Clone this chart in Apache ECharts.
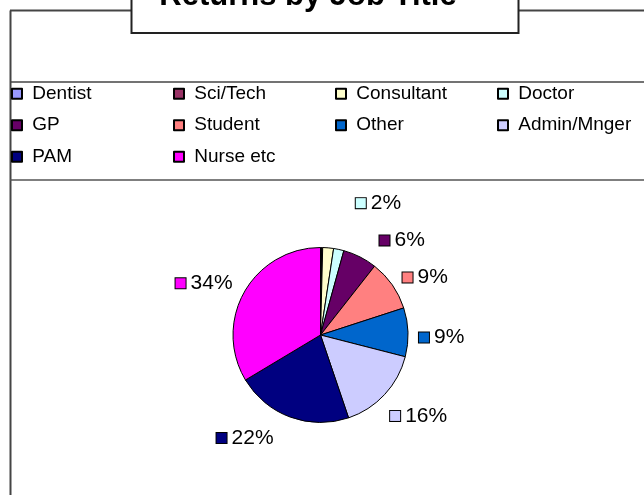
<!DOCTYPE html>
<html><head><meta charset="utf-8">
<script src="https://cdn.jsdelivr.net/npm/echarts@6/dist/echarts.min.js"></script>
<style>html,body{margin:0;padding:0;background:#fff}#c{width:644px;height:495px}</style>
</head><body><div id="c"></div>
<script>
const titleText = 'Returns by Job Title';
const categories = ['Dentist','Sci/Tech','Consultant','Doctor','GP','Student','Other','Admin/Mnger','PAM','Nurse etc'];
const shares = [0.2, 0.2, 2.0, 1.9, 6.3, 9.4, 9.0, 15.8, 21.6, 33.6];
const hiddenLabels = ['Dentist','Sci/Tech','Consultant'];

const colors = ['#9999FF','#993366','#FFFFCC','#CCFFFF','#660066','#FF8080','#0066CC','#CCCCFF','#000080','#FF00FF'];
const FONT = '"Liberation Sans", Arial, sans-serif';
const CX = 320.5, CY = 335, R = 87.5, GAP = 9.5;
const labelNudge = {'Doctor':[28,-30],'GP':[17,-1],'PAM':[-22,5],'Student':[2,5],'Other':[1,6],'Admin/Mnger':[-2,8],'Nurse etc':[-3,3]};

const total = shares.reduce((a,b)=>a+b,0);
function midAngle(i){
  let before = 0; for (let k=0;k<i;k++) before += shares[k];
  return (before + shares[i]/2) / total * Math.PI * 2;
}
function clamp(v){ return Math.max(-1, Math.min(1, v)); }

const rich = { t: { fontSize: 21, fontFamily: FONT, color: '#000', padding:[0,0,0,5] } };
colors.forEach((c,i)=>{ rich['m'+i] = { width: 10, height: 10, backgroundColor: c, borderColor: '#000', borderWidth: 1 }; });

const chart = echarts.init(document.getElementById('c'), null, {renderer:'canvas'});
chart.setOption({
  animation: false,
  color: colors,
  graphic: [
    { type:'line', shape:{x1:10.5,y1:10.5,x2:10.5,y2:495}, style:{stroke:'#444',lineWidth:2}, z:1 },
    { type:'line', shape:{x1:10,y1:10.5,x2:644,y2:10.5}, style:{stroke:'#444',lineWidth:2}, z:1 },
    { type:'line', shape:{x1:10,y1:82,x2:644,y2:82}, style:{stroke:'#444',lineWidth:1.5}, z:1 },
    { type:'line', shape:{x1:10,y1:180,x2:644,y2:180}, style:{stroke:'#555',lineWidth:1.5}, z:1 },
    { type:'rect', shape:{x:131.5,y:-30,width:387,height:63}, style:{fill:'#fff',stroke:'#222',lineWidth:2}, z:5 },
    { type:'text', x:308, y:-19, style:{text:titleText, fill:'#000', font:'bold 31px "Liberation Sans", Arial, sans-serif', textAlign:'center'}, z:6 }
  ],
  legend: {
    left: 11, top: 83, padding: 0, width: 640,
    itemWidth: 10, itemHeight: 10, itemGap: 10, icon: 'rect',
    formatter: n => ' ' + n,
    textStyle: { fontSize: 19, fontFamily: FONT, color: '#000', width: 136, lineHeight: 21.5 },
    data: categories
  },
  series: [{
    type: 'pie',
    center: [CX, CY], radius: R,
    startAngle: 90, clockwise: true,
    avoidLabelOverlap: false,
    emphasis: { disabled: true },
    itemStyle: { borderColor: '#000', borderWidth: 1 },
    labelLine: { show: false },
    label: {
      show: true, position: 'outside',
      formatter: p => '{m' + p.dataIndex + '|}{t|' + Math.round(p.percent) + '%}',
      rich: rich
    },
    labelLayout: function (params) {
      const i = params.dataIndex;
      const a = midAngle(i);
      const s = Math.sin(a), c = Math.cos(a);
      const w = params.labelRect.width, h = 14;
      const d = R + GAP;
      const nd = labelNudge[categories[i]] || [0,0];
      return {
        x: CX + d*s + w/2*clamp(2*s) + nd[0],
        y: CY - d*c - h/2*clamp(2*c) + nd[1],
        align: 'center', verticalAlign: 'middle'
      };
    },
    data: categories.map((name,i)=>({
      name: name, value: shares[i],
      label: hiddenLabels.indexOf(name) >= 0 ? { show: false } : undefined
    }))
  }]
});
</script></body></html>
